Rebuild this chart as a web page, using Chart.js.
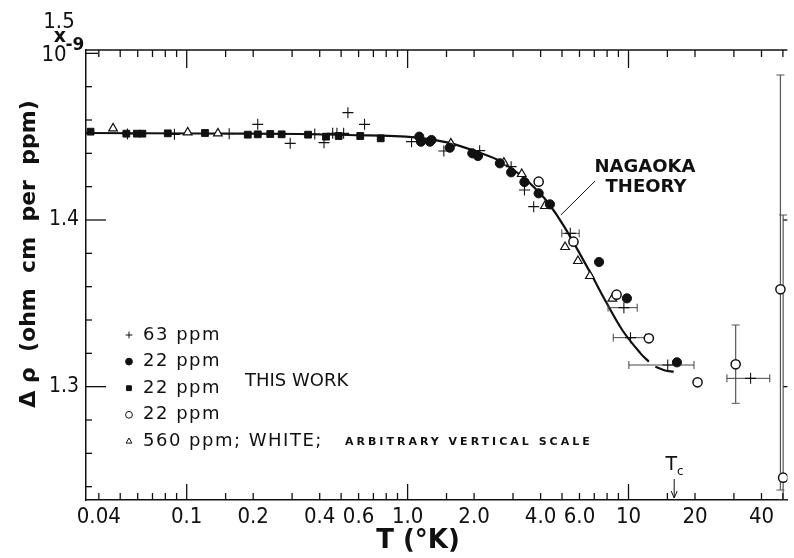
<!DOCTYPE html>
<html>
<head>
<meta charset="utf-8">
<script src="https://cdn.jsdelivr.net/npm/chart.js@4.4.1/dist/chart.umd.min.js"></script>
<style>
  html, body { margin: 0; padding: 0; background: #fff; }
</style>
</head>
<body>
<canvas id="chart" width="794" height="558"></canvas>
<script>
// values (T in K, delta rho in 1e-9 ohm cm per ppm)
const ppm63X = [0.0539, 0.0880, 0.1557, 0.2097, 0.2941, 0.3799, 0.4183, 0.4578, 0.4787, 0.5133, 0.5367, 0.6383, 1.042, 1.459, 2.119, 2.942, 3.380, 3.722, 5.45, 9.53, 10.21, 15.05, 35.7];
const ppm63Y = [1.4516, 1.4514, 1.4518, 1.4574, 1.4460, 1.4516, 1.4464, 1.4520, 1.4520, 1.4520, 1.4644, 1.4574, 1.4470, 1.4414, 1.4416, 1.4320, 1.4180, 1.4080, 1.3920, 1.3474, 1.3294, 1.3130, 1.3050];

const dotX = [1.129, 1.149, 1.262, 1.283, 1.552, 1.963, 2.082, 2.616, 2.942, 3.380, 3.920, 4.408, 7.357, 9.835, 16.57];
const dotY = [1.4500, 1.4470, 1.4470, 1.4480, 1.4434, 1.4400, 1.4384, 1.4340, 1.4286, 1.4228, 1.4160, 1.4094, 1.3748, 1.3530, 1.3146];

const squareX = [0.0367, 0.0533, 0.0595, 0.0630, 0.0821, 0.1210, 0.1890, 0.2097, 0.2389, 0.2690, 0.3544, 0.4272, 0.4874, 0.6104, 0.7555];
const squareY = [1.4530, 1.4518, 1.4518, 1.4518, 1.4520, 1.4522, 1.4512, 1.4514, 1.4516, 1.4514, 1.4512, 1.4500, 1.4504, 1.4504, 1.4490];

const ringX = [3.920, 5.634, 8.83, 12.36, 20.54, 30.56, 48.73, 50.12];
const ringY = [1.4230, 1.3870, 1.3552, 1.3290, 1.3026, 1.3134, 1.3584, 1.2454];

const whiteX = [0.0464, 0.1010, 0.1384, 1.569, 2.727, 3.286, 4.184, 5.160, 5.904, 6.688, 8.447];
const whiteY = [1.4550, 1.4526, 1.4520, 1.4460, 1.4344, 1.4276, 1.4084, 1.3838, 1.3754, 1.3664, 1.3528];

// Nagaoka theory curve (null = small break before the tail)
const theoryX = [0.035, 0.1141, 0.322, 0.5405, 1.080, 1.525, 2.154, 2.651, 3.380, 3.800, 4.302, 5.117, 6.743, 7.749, 9.367, 11.33, 12.36, 12.8, 13.23, 14.63, 16.02];
const theoryY = [1.4522, 1.4519, 1.4516, 1.4510, 1.4496, 1.4464, 1.4400, 1.4350, 1.4250, 1.4186, 1.4108, 1.3960, 1.3680, 1.3530, 1.3340, 1.3200, 1.3150, null, 1.3120, 1.3097, 1.3090];

// error bars
const hErrLow = [4.99, 8.08, 8.53, 10.04, 27.9];
const hErrHigh = [5.98, 10.95, 11.93, 19.8, 43.6];
const hErrY = [1.3920, 1.3474, 1.3294, 1.3130, 1.3050];
const vErrX = [30.56, 48.73, 50.12];
const vErrLow = [1.290, 1.238, 1.232];
const vErrHigh = [1.337, 1.487, 1.403];

// leader line from the NAGAOKA THEORY label
const leaderX = [4.94, 7.06];
const leaderY = [1.403, 1.4234];

const tcValue = 16.1;

const xTickValues = [0.04, 0.1, 0.2, 0.4, 0.6, 1, 2, 4, 6, 10, 20, 40];
const xTickLabels = ['0.04', '0.1', '0.2', '0.4', '0.6', '1.0', '2.0', '4.0', '6.0', '10', '20', '40'];
const yTickValues = [1.24, 1.26, 1.28, 1.30, 1.32, 1.34, 1.36, 1.38, 1.40, 1.42, 1.44, 1.46, 1.48, 1.50];
const yTickLabels = ['', '', '', '1.3', '', '', '', '', '1.4', '', '', '', '', ''];

const legendItems = [
  { text: '63 ppm', style: 'cross', fill: false },
  { text: '22 ppm', style: 'circle', fill: true },
  { text: '22 ppm', style: 'rect', fill: true },
  { text: '22 ppm', style: 'circle', fill: false },
  { text: '560 ppm; WHITE;', style: 'triangle', fill: false }
];

const INK = '#111';
const FONT = "'DejaVu Sans', sans-serif";
const NARROW = "'DejaVu Sans Condensed', 'DejaVu Sans', sans-serif";

function pts(xs, ys) {
  return xs.map((x, i) => ({ x: x, y: ys[i] }));
}

const datasets = [
  { data: pts(ppm63X, ppm63Y), pointStyle: 'cross', pointRadius: 5.5, borderColor: INK, borderWidth: 1.1 },
  { data: pts(dotX, dotY), pointStyle: 'circle', pointRadius: 4.6, backgroundColor: INK, borderColor: INK, borderWidth: 1 },
  { data: pts(squareX, squareY), pointStyle: 'rect', pointRadius: 4.8, backgroundColor: INK, borderColor: INK, borderWidth: 1 },
  { data: pts(ringX, ringY), pointStyle: 'circle', pointRadius: 4.6, backgroundColor: '#fff', borderColor: INK, borderWidth: 1.5 },
  { data: pts(whiteX, whiteY), pointStyle: 'triangle', pointRadius: 5, backgroundColor: '#fff', borderColor: INK, borderWidth: 1.2 }
];

hErrY.forEach((y, i) => {
  datasets.push({
    data: [{ x: hErrLow[i], y: y }, { x: hErrHigh[i], y: y }],
    showLine: true, borderColor: '#444', borderWidth: 1,
    pointStyle: 'line', pointRadius: 4, pointRotation: 90, pointBorderColor: '#444', pointBorderWidth: 1
  });
});
vErrX.forEach((x, i) => {
  datasets.push({
    data: [{ x: x, y: vErrLow[i] }, { x: x, y: vErrHigh[i] }],
    showLine: true, borderColor: '#555', borderWidth: 1.2,
    pointStyle: 'line', pointRadius: 4, pointRotation: 0, pointBorderColor: '#555', pointBorderWidth: 1
  });
});

datasets.push({
  data: pts(leaderX, leaderY), showLine: true, borderColor: INK, borderWidth: 1, pointRadius: 0
});
datasets.push({
  data: pts(theoryX, theoryY), showLine: true, spanGaps: false, borderColor: INK, borderWidth: 2.2,
  pointRadius: 0, tension: 0.35
});

function line(ctx, x1, y1, x2, y2) {
  ctx.beginPath();
  ctx.moveTo(x1, y1);
  ctx.lineTo(x2, y2);
  ctx.stroke();
}

const decor = {
  id: 'decor',
  afterDraw(chart) {
    const ctx = chart.ctx;
    const a = chart.chartArea;
    const xs = chart.scales.x;
    const ys = chart.scales.y;
    ctx.save();
    ctx.strokeStyle = INK;
    ctx.fillStyle = INK;
    ctx.lineWidth = 1.3;

    // top frame line
    line(ctx, a.left, a.top, a.right, a.top);

    // inward ticks on bottom and top
    [0.01, 0.1, 1, 10].forEach(dec => {
      [1, 1.5, 2, 3, 4, 5, 6, 7, 8, 9].forEach(m => {
        const v = m * dec;
        if (v < xs.min || v > xs.max) return;
        const px = xs.getPixelForValue(v);
        line(ctx, px, a.bottom, px, a.bottom - (m === 1 ? 16 : 7));
        line(ctx, px, a.top, px, a.top + (m === 1 ? 18 : 7));
      });
    });

    // inward ticks on the left, short ones on the right
    yTickValues.forEach((v, i) => {
      const py = ys.getPixelForValue(v);
      const len = yTickLabels[i] ? 20 : (v === 1.5 ? 12 : 6);
      line(ctx, a.left, py, a.left + len, py);
      if (yTickLabels[i]) line(ctx, a.right - 4, py, a.right, py);
    });

    // top left scale note
    ctx.textAlign = 'center';
    ctx.textBaseline = 'middle';
    ctx.font = '22px ' + NARROW;
    ctx.fillText('1.5', 59, 22);
    ctx.font = 'bold 19px ' + FONT;
    ctx.fillText('x', 60, 37);
    ctx.font = '22px ' + NARROW;
    ctx.fillText('10', 54, 55);
    ctx.font = 'bold 17px ' + FONT;
    ctx.fillText('-9', 75, 46);

    // axis titles
    ctx.font = 'bold 26px ' + FONT;
    ctx.fillText('T (°K)', 418, 541);
    ctx.save();
    ctx.translate(29, 254);
    ctx.rotate(-Math.PI / 2);
    ctx.font = 'bold 22px ' + FONT;
    ctx.fillText('Δ ρ  (ohm  cm  per  ppm)', 0, 0);
    ctx.restore();

    // legend inside the plot
    ctx.textAlign = 'left';
    legendItems.forEach((item, i) => {
      const y = 335 + i * 26.6;
      ctx.fillStyle = item.fill ? INK : '#fff';
      ctx.strokeStyle = INK;
      ctx.lineWidth = 1;
      Chart.helpers.drawPoint(ctx, { pointStyle: item.style, radius: 3.4, rotation: 0, borderWidth: 1 }, 129, y);
      ctx.save();
      ctx.fillStyle = INK;
      ctx.font = '18px ' + FONT;
      ctx.letterSpacing = '1.5px';
      ctx.fillText(item.text, 143, y);
      ctx.restore();
    });
    ctx.fillStyle = INK;
    ctx.font = '18px ' + FONT;
    ctx.fillText('THIS WORK', 245, 381);
    ctx.save();
    ctx.font = 'bold 11px ' + FONT;
    ctx.letterSpacing = '3px';
    ctx.fillText('ARBITRARY VERTICAL SCALE', 345, 335 + 4 * 26.6 + 1);
    ctx.restore();

    // theory label
    ctx.textAlign = 'center';
    ctx.font = 'bold 18px ' + FONT;
    ctx.fillText('NAGAOKA', 645, 167);
    ctx.fillText('THEORY', 646, 187);

    // Tc marker
    const tx = xs.getPixelForValue(tcValue);
    ctx.font = '19px ' + FONT;
    ctx.fillText('T', tx - 3, 465);
    ctx.font = '12px ' + FONT;
    ctx.fillText('c', tx + 6, 472);
    ctx.lineWidth = 1;
    line(ctx, tx, 479, tx, 498);
    ctx.beginPath();
    ctx.moveTo(tx - 3, 491);
    ctx.lineTo(tx, 498);
    ctx.lineTo(tx + 3, 491);
    ctx.stroke();

    ctx.restore();
  }
};

new Chart(document.getElementById('chart'), {
  type: 'scatter',
  data: { datasets: datasets },
  plugins: [decor],
  options: {
    responsive: false,
    animation: false,
    events: [],
    devicePixelRatio: 1,
    layout: { padding: { top: 50, right: 3, left: 0, bottom: 0 } },
    plugins: { legend: { display: false }, tooltip: { enabled: false } },
    scales: {
      x: {
        type: 'logarithmic',
        min: 0.035,
        max: 52.4,
        afterFit: (scale) => { scale.height = 58; },
        afterBuildTicks: (axis) => { axis.ticks = xTickValues.map(v => ({ value: v })); },
        grid: { display: false, drawTicks: false },
        border: { display: true, color: INK, width: 1.5 },
        ticks: {
          autoSkip: false, maxRotation: 0, padding: 4, color: INK,
          font: { family: NARROW, size: 22 },
          callback: (value, index) => xTickLabels[index]
        }
      },
      y: {
        type: 'linear',
        min: 1.232,
        max: 1.502,
        afterFit: (scale) => { scale.width = 86; },
        afterBuildTicks: (axis) => { axis.ticks = yTickValues.map(v => ({ value: v })); },
        grid: { display: false, drawTicks: false },
        border: { display: true, color: INK, width: 1.5 },
        ticks: {
          autoSkip: false, padding: 7, color: INK,
          font: { family: NARROW, size: 21 },
          callback: (value, index) => yTickLabels[index]
        }
      }
    }
  }
});
</script>
</body>
</html>
